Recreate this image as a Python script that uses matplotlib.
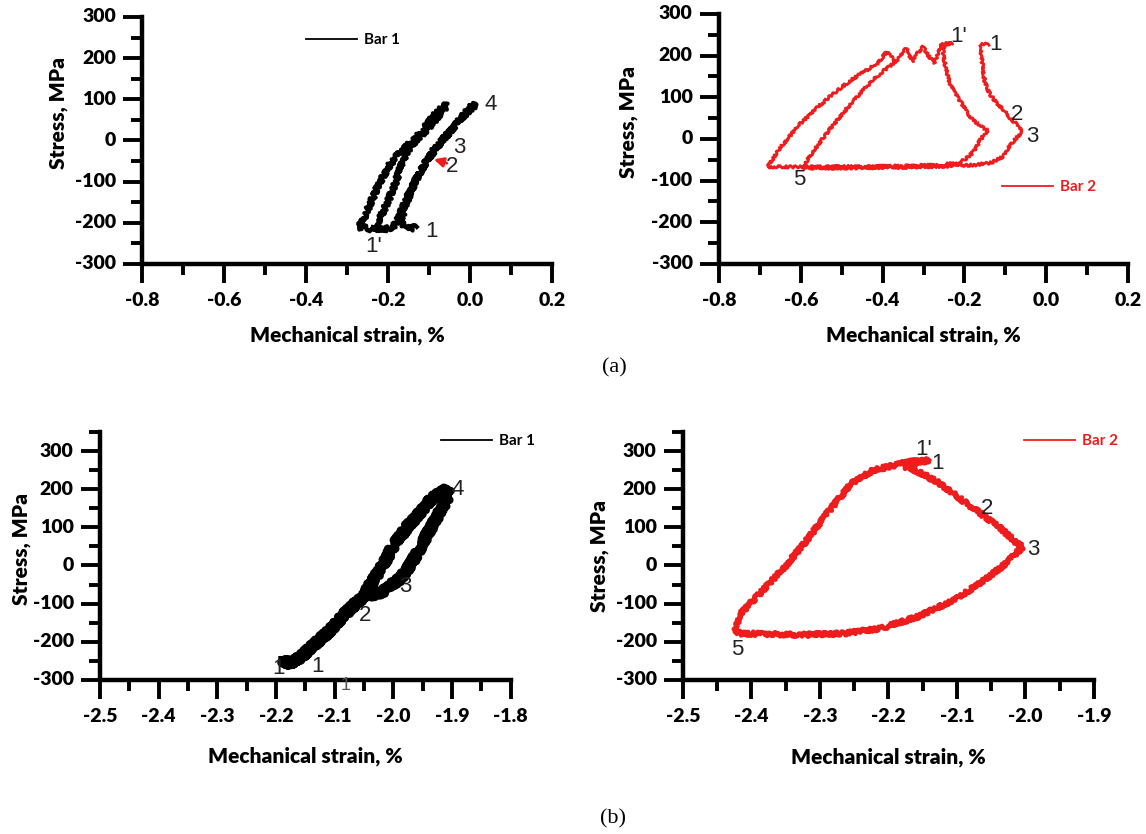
import matplotlib
matplotlib.use("Agg")
import matplotlib.pyplot as plt
from matplotlib.lines import Line2D
from matplotlib.font_manager import FontProperties
from matplotlib.ticker import MultipleLocator
from matplotlib.transforms import blended_transform_factory, offset_copy

plt.rcParams['axes.unicode_minus'] = False
plt.rcParams['font.family'] = ['Lato', 'DejaVu Sans']

# (a) bar 1 - strain (%) and stress (MPa)
strain_a1 = [-0.130, -0.145, -0.160, -0.168, -0.163, -0.155, -0.144, -0.132, -0.118, -0.104,
             -0.090, -0.074, -0.058, -0.040, -0.022, -0.005, 0.008, 0.016, 0.004, -0.012,
             -0.030, -0.050, -0.070, -0.090, -0.108, -0.125, -0.142, -0.158, -0.172, -0.182,
             -0.200, -0.225, -0.250, -0.272, -0.262, -0.252, -0.240, -0.228, -0.214, -0.198,
             -0.180, -0.160, -0.140, -0.122, -0.104, -0.088, -0.072, -0.060, -0.056, -0.072,
             -0.092, -0.112, -0.130, -0.146, -0.160, -0.172, -0.184, -0.198, -0.212, -0.225,
             -0.235]
stress_a1 = [-210, -214, -210, -198, -175, -150, -122, -95, -70, -48,
             -28, -8, 12, 32, 52, 70, 82, 87, 84, 66,
             44, 20, -2, -25, -52, -82, -115, -150, -182, -205,
             -214, -216, -214, -210, -196, -172, -145, -118, -90, -62,
             -38, -18, -2, 18, 40, 60, 76, 85, 84, 66,
             42, 20, 2, -15, -40, -72, -108, -142, -172, -200,
             -212]

# (a) bar 2
strain_a2 = [-0.140, -0.152, -0.160, -0.160, -0.156, -0.153, -0.146, -0.136, -0.122, -0.105,
             -0.088, -0.072, -0.058, -0.062, -0.075, -0.090, -0.107, -0.134, -0.170, -0.230,
             -0.300, -0.400, -0.500, -0.592, -0.584, -0.558, -0.530, -0.503, -0.476, -0.450,
             -0.423, -0.396, -0.380, -0.369, -0.355, -0.342, -0.328, -0.315, -0.301, -0.288,
             -0.274, -0.262, -0.258, -0.245, -0.229, -0.250, -0.252, -0.246, -0.236, -0.222,
             -0.207, -0.194, -0.180, -0.160, -0.142, -0.150, -0.161, -0.172, -0.183, -0.200,
             -0.215, -0.260, -0.350, -0.450, -0.560, -0.681, -0.668, -0.654, -0.628, -0.600,
             -0.566, -0.530, -0.500, -0.476, -0.444, -0.412, -0.390, -0.378, -0.369]
stress_a2 = [225, 228, 226, 212, 180, 150, 125, 105, 88, 70,
             50, 35, 22, 15, 0, -18, -43, -57, -62, -65,
             -67, -69, -70, -70, -50, -14, 22, 55, 86, 115,
             142, 165, 176, 185, 200, 218, 185, 205, 221, 200,
             182, 210, 226, 230, 230, 226, 205, 172, 134, 108,
             86, 64, 46, 30, 20, 12, -2, -22, -36, -50,
             -57, -62, -65, -66, -67, -67, -48, -26, 6, 38,
             70, 101, 124, 142, 162, 182, 209, 196, 186]

# (b) bar 1
strain_b1 = [-2.189, -2.176, -2.157, -2.139, -2.126, -2.107, -2.088, -2.070, -2.051, -2.019,
             -1.988, -1.969, -1.944, -1.919, -1.904, -1.910, -1.932, -1.950, -1.976, -2.001,
             -2.019, -2.038, -2.051, -2.076, -2.107, -2.139, -2.157, -2.176, -2.189, -2.170]
stress_b1 = [-248, -256, -239, -213, -195, -169, -134, -108, -82, -69,
             -34, 6, 76, 145, 189, 198, 180, 145, 102, 49,
             -3, -47, -82, -117, -169, -213, -239, -256, -248, -262]

# (b) bar 2
strain_b2 = [-2.141, -2.176, -2.150, -2.125, -2.093, -2.066, -2.039, -2.012, -2.004, -2.028,
             -2.060, -2.103, -2.157, -2.211, -2.265, -2.329, -2.415, -2.424, -2.415, -2.383,
             -2.351, -2.319, -2.286, -2.254, -2.222, -2.190, -2.168, -2.141, -2.179]
stress_b2 = [276, 259, 240, 215, 172, 137, 102, 58, 49, 6,
             -38, -90, -134, -165, -178, -182, -178, -173, -125, -64,
             -3, 67, 145, 215, 250, 263, 272, 276, 268]

# tick values
strain_ticks_a = [-0.8, -0.6, -0.4, -0.2, 0.0, 0.2]
strain_ticks_b1 = [-2.5, -2.4, -2.3, -2.2, -2.1, -2.0, -1.9, -1.8]
strain_ticks_b2 = [-2.5, -2.4, -2.3, -2.2, -2.1, -2.0, -1.9]
stress_ticks = [-300, -200, -100, 0, 100, 200, 300]

# point labels: (text, strain, stress)
marks_a1 = [("1'", -0.236, -257), ("1", -0.095, -221), ("2", -0.045, -63),
            ("3", -0.025, -18), ("4", 0.050, 87)]
marks_a2 = [("1'", -0.215, 245), ("1", -0.123, 226), ("2", -0.072, 58),
            ("3", -0.034, 5), ("5", -0.603, -98)]
marks_b1 = [("1", -2.195, -269), ("1", -2.129, -265), ("2", -2.048, -130),
            ("3", -1.979, -55), ("4", -1.891, 198)]
marks_b2 = [("1'", -2.149, 303), ("1", -2.128, 268), ("2", -2.056, 150),
            ("3", -1.988, 41), ("5", -2.421, -221)]

RED = '#ee1c1c'
tick_font = FontProperties(family='Lato', weight='heavy', size=14)
label_font = FontProperties(family='Lato', weight='heavy', size=15)

fig = plt.figure(figsize=(11.46, 8.34), dpi=100)
ax_a1 = fig.add_axes([0.1243, 0.6835, 0.3573, 0.2962])
ax_a2 = fig.add_axes([0.6274, 0.6835, 0.3569, 0.2998])
ax_b1 = fig.add_axes([0.0873, 0.1847, 0.3583, 0.2974])
ax_b2 = fig.add_axes([0.5960, 0.1847, 0.3585, 0.2974])


def setup(ax, xticks, xmin_step, ylim, ylab_xy, xlab_y):
    for s in ('top', 'right'):
        ax.spines[s].set_visible(False)
    for s in ('left', 'bottom'):
        ax.spines[s].set_linewidth(3.2)
    ax.set_xticks(xticks)
    ax.set_yticks(stress_ticks)
    ax.set_xlim(xticks[0], xticks[-1])
    ax.set_ylim(*ylim)
    ax.xaxis.set_minor_locator(MultipleLocator(xmin_step))
    ax.yaxis.set_minor_locator(MultipleLocator(50))
    ax.tick_params(which='major', direction='out', length=14, width=2.8,
                   labelbottom=False, labelleft=False)
    ax.tick_params(which='minor', direction='out', length=8, width=2.8)

    # bold tick labels written next to the ticks
    tx = offset_copy(blended_transform_factory(ax.transData, ax.transAxes),
                     fig=fig, y=-20, units='points')
    for v in xticks:
        ax.text(v, 0, '%.1f' % v, transform=tx, fontproperties=tick_font,
                ha='center', va='top', clip_on=False)
    ty = offset_copy(blended_transform_factory(ax.transAxes, ax.transData),
                     fig=fig, x=-19, units='points')
    for v in stress_ticks:
        ax.text(0, v, str(v), transform=ty, fontproperties=tick_font,
                ha='right', va='center', clip_on=False)

    ax.set_xlabel('Mechanical strain, %', fontproperties=label_font)
    ax.set_ylabel('Stress, MPa', fontproperties=label_font)
    ax.yaxis.set_label_coords(*ylab_xy)
    ax.xaxis.set_label_coords(0.5, xlab_y)
    ax.xaxis.label.set_va('top')


def draw(ax, x, y, color, lw, noise, marks, legend_text, legend_xy):
    line, = ax.plot(x, y, color=color, lw=lw, solid_joinstyle='round')
    line.set_sketch_params(scale=noise, length=2.5, randomness=3)
    for t, mx, my in marks:
        ax.text(mx, my, t, fontsize=16, family='Liberation Sans',
                color='#222222', ha='center', va='center')
    handle = Line2D([], [], color=color, lw=1.3)
    leg = ax.legend([handle], [legend_text], loc='center left', bbox_to_anchor=legend_xy,
                    frameon=False, borderpad=0, borderaxespad=0, handlelength=3.3,
                    handletextpad=0.45, prop={'weight': 'bold', 'size': 11})
    leg.get_texts()[0].set_color(color)


setup(ax_a1, strain_ticks_a, 0.1, (-300, 300), (-0.182, 0.61), -0.25)
draw(ax_a1, strain_a1, stress_a1, 'black', 3.0, 2.6, marks_a1, 'Bar 1', (0.40, 0.907))
ax_a1.annotate('', xy=(-0.095, -44), xytext=(-0.050, -57),
               arrowprops=dict(arrowstyle='-|>', color=RED, lw=2.0, mutation_scale=14))

setup(ax_a2, strain_ticks_a, 0.1, (-300, 300), (-0.197, 0.568), -0.248)
draw(ax_a2, strain_a2, stress_a2, RED, 2.0, 1.3, marks_a2, 'Bar 2', (0.693, 0.308))

setup(ax_b1, strain_ticks_b1, 0.05, (-300, 350), (-0.169, 0.528), -0.27)
draw(ax_b1, strain_b1, stress_b1, 'black', 6.0, 3.2, marks_b1, 'Bar 1', (0.831, 0.964))
ax_b1.text(-2.082, -314, '1', fontsize=13, family='Liberation Sans',
           color='#555555', ha='center', va='center', clip_on=False)

setup(ax_b2, strain_ticks_b2, 0.05, (-300, 350), (-0.18, 0.50), -0.274)
draw(ax_b2, strain_b2, stress_b2, RED, 3.4, 2.0, marks_b2, 'Bar 2', (0.831, 0.964))

fig.text(0.536, 0.559, '(a)', family='Liberation Serif', fontsize=16,
         ha='center', va='center')
fig.text(0.535, 0.018, '(b)', family='Liberation Serif', fontsize=16,
         ha='center', va='center')

fig.savefig('out.png', dpi=100)
